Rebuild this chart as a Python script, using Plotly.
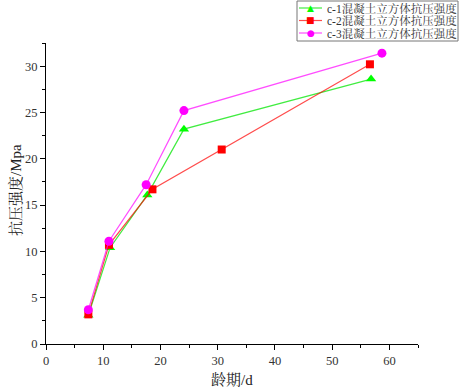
import plotly.graph_objects as go

names = ["c-1混凝土立方体抗压强度", "c-2混凝土立方体抗压强度", "c-3混凝土立方体抗压强度"]
x_c1 = [7.4, 11.2, 17.7, 24.1, 56.8]
y_c1 = [3.1, 10.4, 16.1, 23.2, 28.6]
x_c2 = [7.4, 11.0, 18.6, 30.7, 56.6]
y_c2 = [3.2, 10.7, 16.7, 21.0, 30.2]
x_c3 = [7.4, 11.0, 17.5, 24.1, 58.7]
y_c3 = [3.7, 11.1, 17.2, 25.2, 31.4]
x_title = "龄期/d"
y_title = "抗压强度/Mpa"

xs = [x_c1, x_c2, x_c3]
ys = [y_c1, y_c2, y_c3]
colors = ["#00FF00", "#FF0000", "#FF00FF"]
line_colors = ["rgba(0,230,0,0.75)", "rgba(255,0,0,0.7)", "rgba(255,0,255,0.7)"]
symbols = ["triangle-up", "square", "circle"]
glyphs = ["▲", "■", "●"]
sizes = [9, 8, 9]

FONT = "Liberation Serif, Noto Serif CJK SC, Noto Sans CJK SC, serif"
W, H = 462, 392
ML, MR, MT, MB = 46, 44, 43, 48
PW, PH = W - ML - MR, H - MT - MB


def px(x):
    return (x - ML) / PW


def py(y):
    return (H - MB - y) / PH


fig = go.Figure()
for i in range(3):
    fig.add_trace(go.Scatter(
        x=xs[i], y=ys[i], name=names[i], mode="lines+markers",
        line=dict(color=line_colors[i], width=1.2),
        marker=dict(symbol=symbols[i], size=sizes[i], color=colors[i], line=dict(width=0)),
        showlegend=False, cliponaxis=False,
    ))

axis_common = dict(
    showline=True, linecolor="black", linewidth=1.2, mirror=False, automargin=False,
    showgrid=False, zeroline=False, ticks="outside", ticklen=5, tickwidth=1,
    tickcolor="black", tickfont=dict(family=FONT, size=12.5, color="#333"),
)
fig.update_xaxes(range=[0, 65], dtick=10, tick0=0,
                 minor=dict(ticks="outside", dtick=5, ticklen=3, tickcolor="black"),
                 **axis_common)
fig.update_yaxes(range=[0, 32.5], dtick=5, tick0=0,
                 minor=dict(ticks="outside", dtick=2.5, ticklen=3, tickcolor="black"),
                 **axis_common)

shapes = [dict(type="rect", xref="paper", yref="paper",
               x0=px(297), x1=px(458), y0=py(1), y1=py(41),
               line=dict(color="#777", width=1), fillcolor="white", layer="above")]
annotations = [
    dict(xref="paper", yref="paper", x=px(232), y=py(380), text=x_title, showarrow=False,
         xanchor="center", yanchor="middle", font=dict(family=FONT, size=15, color="#222")),
    dict(xref="paper", yref="paper", x=px(15), y=py(190), text=y_title, showarrow=False,
         textangle=-90, xanchor="center", yanchor="middle",
         font=dict(family=FONT, size=15, color="#222")),
]
rows = [8, 20.5, 33]
for i in range(3):
    shapes.append(dict(type="line", xref="paper", yref="paper",
                       x0=px(299), x1=px(322), y0=py(rows[i]), y1=py(rows[i]),
                       line=dict(color=line_colors[i], width=1.2), layer="above"))
    annotations.append(dict(xref="paper", yref="paper", x=px(310.5), y=py(rows[i]),
                            text=glyphs[i], showarrow=False, xanchor="center", yanchor="middle",
                            font=dict(family="DejaVu Sans", size=9, color=colors[i])))
    annotations.append(dict(xref="paper", yref="paper", x=px(325), y=py(rows[i]),
                            text=names[i], showarrow=False, xanchor="left", yanchor="middle",
                            font=dict(family=FONT, size=11.5, color="#333")))

fig.update_layout(
    width=W, height=H,
    margin=dict(l=ML, r=MR, t=MT, b=MB),
    plot_bgcolor="white", paper_bgcolor="white",
    font=dict(family=FONT),
    showlegend=False,
    shapes=shapes, annotations=annotations,
)
fig.write_html("out.html", config={"displayModeBar": False},
               post_script="document.body.style.margin='0px';document.body.style.overflow='hidden';")
